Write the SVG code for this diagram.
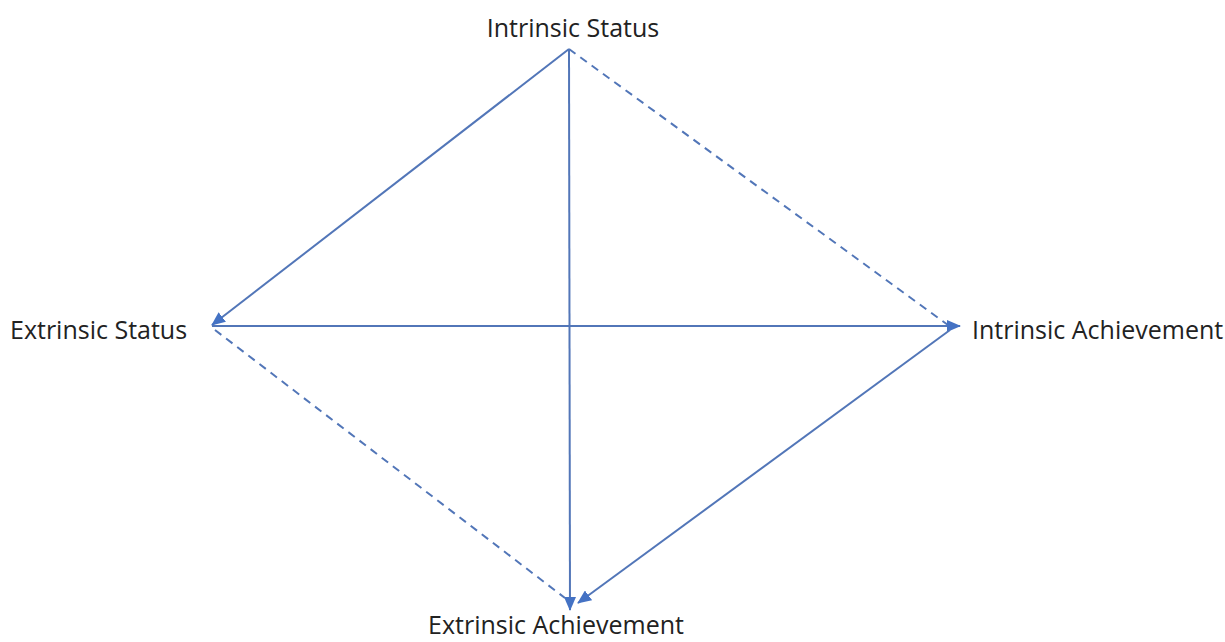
<svg xmlns="http://www.w3.org/2000/svg" width="1225" height="642" viewBox="0 0 1225 642">
<style>
.lbl{font-family:"Open Sans","Noto Sans",sans-serif;font-size:25px;fill:#222222}
.ln{stroke:#5276b8;stroke-width:2;fill:none}
.dash{stroke-dasharray:8 6}
</style>
<defs>
<marker id="ah" viewBox="0 0 14 12" refX="13" refY="6" markerWidth="14" markerHeight="12" markerUnits="userSpaceOnUse" orient="auto">
<path d="M0,0 L14,6 L0,12 z" fill="#4472c4"/>
</marker>
</defs>
<rect width="1225" height="642" fill="#ffffff"/>
<g id="connectors">
<line class="ln" x1="569" y1="49" x2="212" y2="325" marker-end="url(#ah)"/>
<line class="ln" x1="569" y1="49" x2="570" y2="610" marker-end="url(#ah)"/>
<line class="ln dash" x1="569" y1="49" x2="948" y2="325"/>
<line class="ln" x1="212" y1="326" x2="960" y2="326" marker-end="url(#ah)"/>
<line class="ln" x1="950" y1="330" x2="578" y2="603" marker-end="url(#ah)"/>
<line class="ln dash" x1="215" y1="330" x2="565" y2="598"/>
</g>
<g id="intrinsic-status"><text class="lbl" x="573" y="37" text-anchor="middle">Intrinsic Status</text></g>
<g id="extrinsic-status"><text class="lbl" x="10" y="339">Extrinsic Status</text></g>
<g id="intrinsic-achievement"><text class="lbl" x="972" y="339">Intrinsic Achievement</text></g>
<g id="extrinsic-achievement"><text class="lbl" x="556" y="634" text-anchor="middle">Extrinsic Achievement</text></g>
</svg>
